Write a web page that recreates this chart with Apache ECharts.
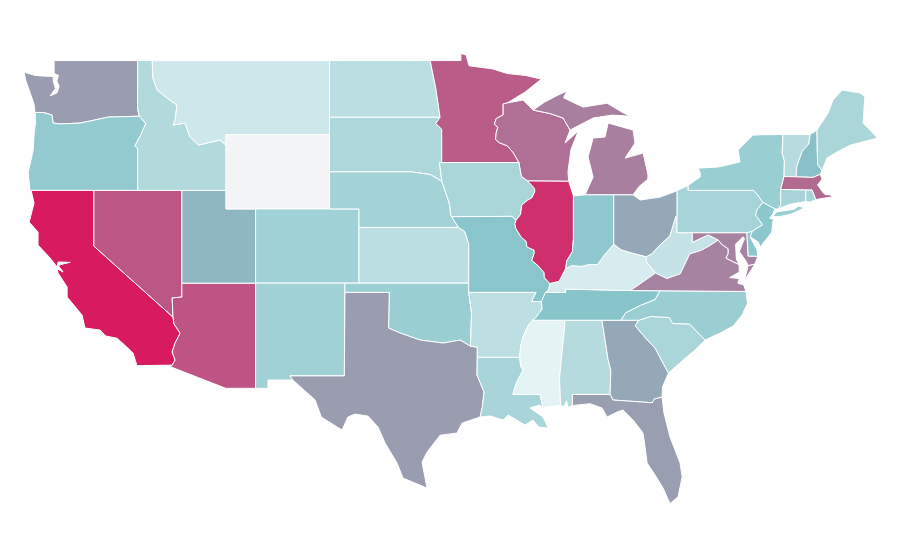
<!DOCTYPE html>
<html><head><meta charset="utf-8">
<script src="https://cdn.jsdelivr.net/npm/echarts@6/dist/echarts.min.js"></script>
<style>html,body{margin:0;background:#fff}#c{width:900px;height:560px}</style>
</head><body><div id="c"></div>
<script>
const stateNames=['California','Illinois','Arizona','Nevada','Minnesota','Massachusetts','Wisconsin','Michigan','Virginia','Maryland','Washington','Texas','Florida','Georgia','Ohio','Utah','New Hampshire','Tennessee','Missouri','New Jersey','Delaware','Indiana','Oregon','New York','Oklahoma','North Carolina','New Mexico','Colorado','Nebraska','Pennsylvania','Connecticut','Rhode Island','Louisiana','Iowa','Maine','South Carolina','South Dakota','Idaho','Alabama','Vermont','North Dakota','Kansas','Arkansas','West Virginia','Montana','Kentucky','Mississippi'];
const stateValues=[300,285,256,255,250,239,235,223,219,219,200,200,195,172,172,135,110,100,99,96,96,93,89,82,82,81,76,75,71,69,69,69,67,65,65,65,62,57,54,52,47,47,45,37,29,19,5];
const colorStops=['#e9f5f6','#88c5cb','#9a9db0','#d81b60'];
const noDataColor='#f3f4f6';

// Shared boundary lines, as [longitude, latitude]
const stCroix=[[-92.02,46.71],[-92.29,46.66],[-92.29,46.07],[-92.76,45.87],[-92.88,45.57],[-92.65,45.4],[-92.76,45.1],[-92.8,44.75],[-92.55,44.57],[-92,44.4],[-91.6,44.03],[-91.22,43.5]];
const iaWi=[[-91.22,43.5],[-91.15,43.15],[-91.06,42.75],[-90.64,42.51]];
const iaIl=[[-90.64,42.51],[-90.42,42.33],[-90.16,42.1],[-90.15,41.93],[-90.34,41.6],[-90.66,41.46],[-91.03,41.2],[-91.11,40.7],[-91.42,40.38]];
const moIl=[[-91.42,40.38],[-91.5,40.2],[-91.42,39.93],[-91.06,39.47],[-90.73,39.25],[-90.68,38.95],[-90.2,38.78],[-90.18,38.63],[-90.35,38.22],[-89.95,37.96],[-89.52,37.57],[-89.5,37.3],[-89.13,36.98]];
const arTn=[[-89.7,36],[-89.65,35.6],[-90.1,35.12],[-90.3,35]];
const arMs=[[-90.3,35],[-90.6,34.7],[-90.95,34.1],[-91.1,33.6],[-91.17,33]];
const laMs=[[-91.17,33],[-91.1,32.5],[-90.93,32.33],[-91.4,31.6],[-91.63,31],[-89.79,31],[-89.59,30.3]];
const columbia=[[-123.98,46.2],[-123.4,46.2],[-122.83,46.06],[-122.76,45.63],[-122.3,45.58],[-120.93,45.63],[-120.2,45.75],[-119.04,45.95],[-116.92,46]];
const snake=[[-116.92,46],[-116.48,45.6],[-116.85,44.95],[-117.22,44.4],[-117.03,44.25],[-117.03,42]];
const idMt=[[-116.05,49],[-116,48.06],[-115.72,47.41],[-115.04,46.98],[-114.37,46.6],[-114.5,45.79],[-114.64,45.52],[-113.82,45.63],[-113.49,44.88],[-112.94,44.44],[-111.45,44.72],[-111.05,44.44]];
const coRiver=[[-114.64,35.17],[-114.57,34.8],[-114.16,34.3],[-114.5,33.77],[-114.7,33.29],[-114.5,32.85],[-114.7,32.58]];
const redRiver=[[-94.5,33.6],[-95.2,33.93],[-96.35,33.77],[-97.9,33.93],[-99.26,34.31],[-100.05,34.58]];
const sabine=[[-94.04,33],[-94.06,32.05],[-93.58,31.13],[-93.7,30.3],[-93.85,29.78]];
const sdNe=[[-104.05,43],[-98.5,43],[-97.2,42.85],[-96.44,42.49]];
const neIa=[[-96.44,42.49],[-96.1,41.7],[-95.9,41.2],[-95.85,40.7],[-95.77,40.58]];
const sdMn=[[-96.56,45.94],[-96.85,45.6],[-96.45,45.3],[-96.45,43.5]];
const wiMi=[[-90.26,46.33],[-89.1,46.14],[-88.23,45.9],[-87.76,45.25]];
const ohioRiverIn=[[-88.05,37.8],[-87.6,37.95],[-87,37.9],[-86.5,38],[-85.9,38],[-85.45,38.5],[-84.8,39.1]];
const ohioRiverOh=[[-84.8,39.1],[-84.3,38.8],[-83.7,38.65],[-82.6,38.42]];
const ohWv=[[-82.6,38.42],[-82.2,38.6],[-81.75,39],[-81,39.55],[-80.6,40.6],[-80.52,40.64]];
const wabash=[[-87.53,41.7],[-87.53,39.35],[-87.6,38.7],[-87.98,38.2],[-88.05,37.8]];
const lowerOhio=[[-88.05,37.8],[-88.5,37.1],[-89.13,36.98]];
const tnNc=[[-81.68,36.59],[-82,36.12],[-83,35.8],[-84,35.4],[-84.32,35]];
const savannah=[[-83.11,35],[-83.35,34.7],[-82.6,34],[-82,33.5],[-81.4,32.6],[-81.1,32.15]];
const ncSc=[[-83.11,35],[-82.3,35.2],[-81.05,35.15],[-80.8,34.82],[-79.67,34.8],[-78.62,33.93]];
const vaWv=[[-77.72,39.32],[-78.35,39],[-78.87,38.77],[-79.65,38.58],[-80.3,37.5],[-81.2,37.25],[-81.97,37.54]];
const potomac=[[-76.32,38],[-77.2,38.35],[-77.05,38.6],[-77.05,38.85],[-77.5,39.1],[-77.72,39.32]];
const delRiver=[[-75.35,42],[-75.05,41.75],[-74.7,41.36]];
const delRiver2=[[-74.7,41.36],[-75.1,40.95],[-75.2,40.68],[-74.72,40.15],[-75.42,39.8]];
const ctRiver=[[-71.5,45.01],[-71.6,44.5],[-72.05,44.1],[-72.4,43.3],[-72.46,42.73]];
const meNh=[[-71.04,45.25],[-71.03,44.65],[-71,43.4],[-70.7,43.07]];
const rev=a=>[...a].reverse();

const outlines={
Washington:[[[-117.03,49],[-122.69,49],[-122.69,48.3],[-122.4,48.2],[-122.5,47.9],[-122.35,47.6],[-122.5,47.25],[-122.95,47.1],[-122.6,47.5],[-122.75,47.9],[-122.75,48.15],[-123.2,48.15],[-124,48.2],[-124.73,48.38],[-124.6,47.9],[-124.2,47],[-124.05,46.65],...columbia,[-117.04,46.42]]],
Oregon:[[...columbia,...snake.slice(1),[-124.32,42],[-124.45,42.94],[-124.11,44.17],[-124.05,45],[-123.95,45.7]]],
California:[[[-124.25,42],[-120,42],[-120,39],...coRiver,[-117.08,32.55],[-117.35,33.23],[-117.9,33.65],[-118.43,34.03],[-119.2,34.15],[-119.58,34.47],[-120.6,34.58],[-120.8,35.28],[-121.81,36.25],[-121.81,36.79],[-122.42,37.54],[-122.5,37.78],[-122.08,37.6],[-122.42,37.95],[-122,38.05],[-121.6,38.12],[-122.42,38.14],[-122.49,37.87],[-122.96,38.35],[-123.78,39.05],[-123.78,39.75],[-124.38,40.29],[-124.05,41.32]]],
Nevada:[[[-120,42],[-114.04,42],[-114.04,36.25],[-114.7,36.2],[-114.64,35.17],[-120,39]]],
Arizona:[[[-114.04,37],[-109.05,37],[-109.05,31.33],[-111.07,31.33],[-114.81,32.49],...rev(coRiver),[-114.7,36.2],[-114.04,36.25]]],
Utah:[[[-114.04,42],[-111.05,42],[-111.05,41],[-109.05,41],[-109.05,37],[-114.04,37]]],
Idaho:[[[-117.04,49],...idMt,[-111.05,42],...rev(snake),[-117.04,46.42]]],
Montana:[[[-116.05,49],[-104.05,49],[-104.05,45],[-111.05,45],...rev(idMt).slice(0,-1)]],
Wyoming:[[[-111.05,45],[-104.05,45],[-104.05,41],[-111.05,41]]],
Colorado:[[[-109.05,41],[-102.05,41],[-102.05,37],[-109.05,37]]],
'New Mexico':[[[-109.05,37],[-103,37],[-103.04,32],[-106.72,32],[-106.53,31.78],[-108.21,31.78],[-108.21,31.33],[-109.05,31.33]]],
'North Dakota':[[[-104.05,49],[-97.23,49],[-96.85,47.5],[-96.56,45.94],[-104.05,45.94]]],
'South Dakota':[[[-104.05,45.94],...sdMn,[-96.6,43.5],...rev(sdNe)]],
Nebraska:[[...sdNe,...neIa,[-95.31,40],[-102.05,40],[-102.05,41],[-104.05,41]]],
Kansas:[[[-102.05,40],[-95.31,40],[-94.9,39.8],[-94.61,39.1],[-94.62,37],[-102.05,37]]],
Oklahoma:[[[-103,37],[-94.62,37],[-94.62,36.5],[-94.43,35.4],...redRiver,[-100,36.5],[-103,36.5]]],
Texas:[[[-103,36.5],[-100,36.5],...rev(redRiver),[-94.04,33.55],...sabine,[-95.07,29.46],[-95.41,28.92],[-96.56,28.8],[-97.44,27.89],[-97.78,27.35],[-97.44,25.95],[-99.07,26.49],[-99.47,27.3],[-100.28,28.38],[-100.76,29.24],[-101.43,29.83],[-102.32,29.94],[-102.8,29.78],[-103.2,29.08],[-104.6,29.78],[-105.02,30.7],[-106.53,31.78],[-106.72,32],[-103.04,32]]],
Minnesota:[[[-97.23,49],[-95.15,49],[-95.15,49.38],[-94.8,49.3],[-94.6,48.72],[-93,48.55],[-92,48.3],[-90.8,48.2],[-89.7,48],[-90.8,47.3],...stCroix,...rev(sdMn),[-96.85,47.5]]],
Wisconsin:[[...stCroix,...iaWi,[-87.85,42.49],[-87.9,43],[-87.7,44.2],[-87.2,45.2],[-88.1,44.55],...rev(wiMi),[-90.95,46.87]]],
Michigan:[[[-90.26,46.33],[-89.5,46.75],[-88.57,47.14],[-87.96,47.36],[-88.2,47],[-87.89,46.87],[-86.88,46.49],[-85.25,46.7],[-84.24,46.22],[-83.7,46],[-84.91,46.06],[-86.2,45.9],...rev(wiMi)],
 [[-86.74,41.76],[-84.8,41.76],[-83.49,41.76],[-83.1,42.2],[-82.5,42.6],[-82.48,42.83],[-82.81,44.01],[-84.03,43.74],[-83.36,44.55],[-83.49,45.25],[-85.18,45.63],[-85.39,44.88],[-86.2,44.82],[-86.54,43.8],[-86.2,42.72]]],
Iowa:[[[-96.6,43.5],[-91.22,43.5],...iaWi.slice(1),...iaIl.slice(1),[-91.7,40.6],[-95.77,40.58],...rev(neIa).slice(1)]],
Missouri:[[[-95.77,40.58],[-91.7,40.6],...moIl,[-89.2,36.63],[-89.42,36.5],[-89.7,36],[-90.37,36],[-90.07,36.5],[-94.62,36.5],[-94.62,37],[-94.61,39.1],[-94.9,39.8],[-95.31,40]]],
Arkansas:[[[-94.62,36.5],[-90.07,36.5],[-90.37,36],...arTn,...arMs.slice(1),[-94.04,33],[-94.04,33.55],[-94.5,33.6],[-94.43,35.4]]],
Louisiana:[[...laMs,[-89.8,30.43],[-90.47,30.27],[-89.59,29.78],[-89.25,29.19],[-89.9,29.25],[-90.26,29.62],[-90.8,29.35],[-91.95,29.89],[-92.29,29.62],[-93.17,29.84],...rev(sabine)]],
Mississippi:[[[-90.3,35],[-88.2,35],[-88.1,34.9],[-88.47,31.9],[-88.4,30.4],[-89.59,30.3],...rev(laMs).slice(1),...rev(arMs).slice(1)]],
Alabama:[[[-88.2,35],[-85.6,35],[-85.18,32.87],[-85,32.3],[-85.05,31],[-87.6,31],[-87.6,30.4],[-87.9,30.3],[-88,30.65],[-88.15,30.35],[-88.4,30.4],[-88.47,31.9],[-88.1,34.9]]],
Georgia:[[[-85.6,35],...savannah,[-81.5,31.4],[-81.53,30.86],[-82.05,30.75],[-82.2,30.55],[-84.86,30.7],[-85.05,31],[-85,32.3],[-85.18,32.87]]],
Florida:[[[-87.6,31],[-85.05,31],[-84.86,30.7],[-82.2,30.55],[-82.05,30.75],[-81.53,30.86],[-81.4,30],[-80.99,28.7],[-80.31,27.3],[-80.17,26.55],[-80.45,25.47],[-81,25.12],[-81.46,25.95],[-82,26.65],[-82.54,27.3],[-82.68,28.16],[-82.82,28.92],[-83.49,29.62],[-84.17,30.16],[-84.58,30.05],[-85.25,29.78],[-85.6,30.27],[-86.4,30.5],[-87.6,30.4]]],
'South Carolina':[[...ncSc,[-79.3,33.39],[-80.11,32.85],...rev(savannah)]],
'North Carolina':[[...tnNc.slice(0,1),[-75.85,36.55],[-75.75,35.9],[-76.1,35.3],[-76.7,34.7],[-77.5,34.35],...rev(ncSc),...rev(tnNc).slice(0,-1)]],
Tennessee:[[...arTn,[-84.32,35],...rev(tnNc).slice(1),[-83.68,36.6],[-88.07,36.68],[-88.06,36.5],[-89.42,36.5]]],
Kentucky:[[[-89.42,36.5],[-89.2,36.63],[-89.13,36.98],...rev(lowerOhio).slice(1),...ohioRiverIn.slice(1),...ohioRiverOh.slice(1),[-82.6,38.17],[-81.97,37.54],[-83.68,36.6],[-88.07,36.68],[-88.06,36.5]]],
'West Virginia':[[...ohWv,[-80.52,39.72],[-79.48,39.72],[-79.48,39.2],[-78.4,39.6],...vaWv,[-82.6,38.17]]],
Virginia:[[[-83.68,36.6],[-81.68,36.59],[-75.85,36.55],[-76,36.9],[-76.4,37],[-76.3,37.25],[-76.95,37.3],[-76.3,37.6],...potomac,...vaWv.slice(1)],[[-75.24,38.03],[-75.95,37.15],[-75.7,37.95]]],
Maryland:[[[-79.48,39.72],[-75.79,39.72],[-75.7,38.46],[-75.05,38.45],[-75.24,38.03],[-75.7,37.95],[-75.85,38.2],[-76.3,38.7],[-75.95,39.4],[-76.05,39.5],[-76.55,39.1],[-76.5,38.3],...potomac,[-78.4,39.6],[-79.48,39.2]]],
Delaware:[[[-75.79,39.72],[-75.42,39.8],[-75.55,39.45],[-75.1,38.8],[-75.05,38.45],[-75.7,38.46]]],
Pennsylvania:[[[-80.52,41.98],[-79.76,42.27],[-79.76,42],...delRiver,...delRiver2.slice(1),[-75.79,39.72],[-80.52,39.72]]],
'New York':[[[-79.76,42.27],[-78.95,42.72],[-78.95,42.95],[-79.09,43.2],[-77.74,43.26],[-76.25,43.53],[-76.38,44.18],[-75.37,44.98],[-74.7,45],[-73.34,45.01],[-73.4,44],[-73.25,43.6],[-73.27,42.75],[-73.5,42.05],[-73.49,41.2],[-73.66,41],[-73.9,41],...rev(delRiver),[-79.76,42]],
 [[-74.03,40.6],[-73.75,40.85],[-72.6,40.98],[-72.3,41.15],[-71.87,41.07],[-72.8,40.72],[-73.6,40.58]]],
'New Jersey':[[[-73.9,41],...delRiver2,[-75.55,39.5],[-75,39.2],[-74.9,38.93],[-74.1,39.75],[-74,40.45],[-74.25,40.5],[-74.03,40.72]]],
Vermont:[[[-73.34,45.01],...ctRiver,[-73.27,42.75],[-73.25,43.6],[-73.4,44]]],
'New Hampshire':[[...ctRiver,[-71.3,42.7],[-70.82,42.87],...rev(meNh)]],
Maine:[[...meNh.slice(0,1),[-70.29,46.17],[-69.96,46.87],[-69.34,47.41],[-68.13,47.25],[-67.8,47.07],[-67.92,45.63],[-67.45,45.25],[-66.95,44.82],[-68.79,44.44],[-69.68,44.07],[-70.36,43.74],...rev(meNh).slice(0,-1)]],
Massachusetts:[[[-73.5,42.05],[-73.27,42.75],[-72.46,42.73],[-71.3,42.7],[-70.82,42.87],[-70.7,42.6],[-71,42.3],[-70.7,41.95],[-70.5,41.78],[-70.1,41.75],[-70,41.65],[-70.8,41.55],[-71.12,41.5],[-71.38,42.02],[-71.8,42.02]]],
Connecticut:[[[-73.5,42.05],[-71.8,42.02],[-71.8,41.4],[-72.9,41.25],[-73.66,41],[-73.49,41.2]]],
'Rhode Island':[[[-71.8,42.02],[-71.38,42.02],[-71.12,41.5],[-71.5,41.37],[-71.8,41.4]]],
Illinois:[[[-90.64,42.51],[-87.85,42.49],...wabash,...lowerOhio.slice(1),...rev(moIl).slice(1),...rev(iaIl).slice(1)]],
Indiana:[[[-87.53,41.7],[-86.74,41.76],[-84.8,41.76],...rev(ohioRiverIn),...rev(wabash).slice(1)]],
Ohio:[[[-84.8,41.76],[-83.49,41.76],[-83,41.48],[-81.66,41.64],[-80.52,41.98],[-80.52,40.64],...rev(ohWv).slice(1),...rev(ohioRiverOh).slice(1)]]
};
const features=Object.keys(outlines).map(name=>({type:'Feature',properties:{name},geometry:{type:'MultiPolygon',coordinates:outlines[name].map(r=>[[...r,r[0]]])}}));
echarts.registerMap('USA',{type:'FeatureCollection',features});
const chart=echarts.init(document.getElementById('c'));
chart.setOption({
  animation:false,
  tooltip:{trigger:'item'},
  visualMap:{show:false,min:0,max:300,inRange:{color:colorStops}},
  series:[{type:'map',map:'USA',aspectScale:0.796,left:24,top:53.5,width:853.4,height:450,
    selectedMode:false,label:{show:false},
    itemStyle:{areaColor:noDataColor,borderColor:'#fff',borderWidth:1},
    emphasis:{label:{show:false}},
    data:stateNames.map((n,i)=>({name:n,value:stateValues[i]}))}]
});
</script></body></html>
